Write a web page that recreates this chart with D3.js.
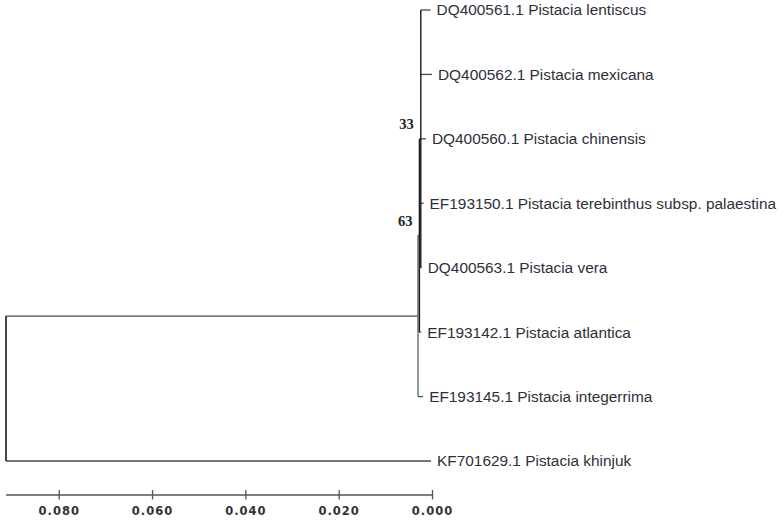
<!DOCTYPE html>
<html>
<head>
<meta charset="utf-8">
<script src="https://cdn.jsdelivr.net/npm/d3@7"></script>
<style>
  html, body { margin: 0; padding: 0; background: #fff; }
  svg { display: block; }
</style>
</head>
<body>
<svg id="chart" width="783" height="521"></svg>
<script>
// ---- data ----
const nodeNames = [
  "root", "Ingroup", "N63", "N33",
  "DQ400561.1 Pistacia lentiscus",
  "DQ400562.1 Pistacia mexicana",
  "DQ400560.1 Pistacia chinensis",
  "EF193150.1 Pistacia terebinthus subsp. palaestina",
  "DQ400563.1 Pistacia vera",
  "EF193142.1 Pistacia atlantica",
  "EF193145.1 Pistacia integerrima",
  "KF701629.1 Pistacia khinjuk"
];
const parentNames = [
  "", "root", "Ingroup", "N63",
  "N33", "N33", "N33", "N33", "N33",
  "N63", "Ingroup", "root"
];
const branchLengths = [
  0, 0.0883, 0.0003, 0.0003,
  0.0021, 0.0024, 0.0011, 0.0006, 0.0002,
  0.0004, 0.0011, 0.0911
];
const supportNodes = ["N33", "N63"];
const supportValues = [33, 63];
const tickValues = [0.080, 0.060, 0.040, 0.020, 0.000];
const tickLabels = ["0.080", "0.060", "0.040", "0.020", "0.000"];

// ---- build tree ----
const table = nodeNames.map((n, i) => ({ id: n, parent: parentNames[i] || null, len: branchLengths[i] }));
const root = d3.stratify().id(d => d.id).parentId(d => d.parent)(table);
root.each(d => { d.cum = (d.parent ? d.parent.cum : 0) + d.data.len; });
const rootAge = d3.max(root.leaves(), d => d.cum);

const svg = d3.select("#chart");
const x = d3.scaleLinear().domain([rootAge, 0]).range([6, 432]);
const leaves = root.leaves();
const y = d3.scalePoint().domain(leaves.map(d => d.id)).range([10, 461]);

root.eachAfter(d => {
  d.px = x(rootAge - d.cum);
  if (!d.children) d.py = y(d.id);
  else d.py = (d.children[0].py + d.children[d.children.length - 1].py) / 2;
});

const lineColor = "#4a4a4a";
const g = svg.append("g");

// horizontal branches
root.descendants().filter(d => d.parent).forEach(d => {
  g.append("line")
    .attr("x1", d.parent.px).attr("x2", d.px)
    .attr("y1", d.py).attr("y2", d.py)
    .attr("stroke", lineColor).attr("stroke-width", 1.3);
});
// vertical connectors
root.descendants().filter(d => d.children).forEach(d => {
  const isRoot = d === root;
  const isInner = d.id === "N33" || d.id === "N63";
  g.append("line")
    .attr("x1", d.px).attr("x2", d.px)
    .attr("y1", d.children[0].py).attr("y2", d.children[d.children.length - 1].py)
    .attr("stroke", isRoot ? "#333" : (isInner ? "#1a1a1a" : "#6a6a6a"))
    .attr("stroke-width", isRoot ? 1.8 : 1.4);
});

// leaf labels
g.selectAll("text.leaf").data(leaves).join("text")
  .attr("class", "leaf")
  .attr("x", d => d.px + 6)
  .attr("y", d => d.py)
  .attr("dy", "0.35em")
  .attr("font-family", "Liberation Sans, Arial, sans-serif")
  .attr("font-size", 15.4)
  .attr("fill", "#2f2f3a")
  .text(d => d.id);

// bootstrap values
supportNodes.forEach((n, i) => {
  const d = root.find(v => v.id === n);
  g.append("text")
    .attr("x", d.px - 7)
    .attr("y", d.py - 10)
    .attr("text-anchor", "end")
    .attr("font-family", "Liberation Serif, Times New Roman, serif")
    .attr("font-weight", "bold")
    .attr("font-size", 14.5)
    .attr("fill", "#222")
    .text(supportValues[i]);
});

// scale axis
const axisY = 495;
const axis = d3.axisBottom(x)
  .tickValues(tickValues)
  .tickFormat((d, i) => tickLabels[i])
  .tickSizeOuter(0)
  .tickSize(0);
const ax = svg.append("g").attr("transform", `translate(0,${axisY})`).call(axis);
ax.select(".domain").attr("stroke", "#555").attr("stroke-width", 1.5);
ax.selectAll(".tick line").remove();
ax.selectAll(".tick").append("line")
  .attr("y1", -5).attr("y2", 4.5)
  .attr("stroke", "#555").attr("stroke-width", 1.3);
ax.selectAll(".tick text")
  .attr("y", 20)
  .attr("dy", 0)
  .attr("font-family", "DejaVu Sans, Verdana, sans-serif")
  .attr("font-weight", "bold")
  .attr("font-size", 11.5)
  .attr("letter-spacing", 1)
  .attr("fill", "#333");
ax.select(".domain").attr("d", `M${x(rootAge)},0H${x(0)}`);
</script>
</body>
</html>
